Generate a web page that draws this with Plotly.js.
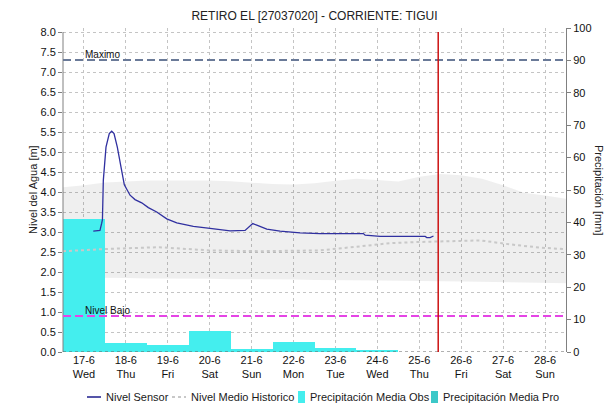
<!DOCTYPE html>
<html>
<head>
<meta charset="utf-8">
<script src="https://cdn.plot.ly/plotly-3.0.1.min.js"></script>
<style>html,body{margin:0;padding:0;background:#fff;}#chart{width:615px;height:404px;}</style>
</head>
<body>
<div id="chart"></div>
<script>
// ---- data ----
const chartTitle = 'RETIRO EL [27037020] - CORRIENTE: TIGUI';
const tickDates = ['2020-06-17 12:00','2020-06-18 12:00','2020-06-19 12:00','2020-06-20 12:00','2020-06-21 12:00','2020-06-22 12:00','2020-06-23 12:00','2020-06-24 12:00','2020-06-25 12:00','2020-06-26 12:00','2020-06-27 12:00','2020-06-28 12:00'];
const tickLabels = ['17-6<br>Wed','18-6<br>Thu','19-6<br>Fri','20-6<br>Sat','21-6<br>Sun','22-6<br>Mon','23-6<br>Tue','24-6<br>Wed','25-6<br>Thu','26-6<br>Fri','27-6<br>Sat','28-6<br>Sun'];

const sensorTimes = ['2020-06-17 17:20','2020-06-17 21:10','2020-06-17 22:10','2020-06-17 22:35','2020-06-17 23:05','2020-06-18 00:37','2020-06-18 02:30','2020-06-18 03:53','2020-06-18 05:13','2020-06-18 07:06','2020-06-18 09:13','2020-06-18 11:07','2020-06-18 14:23','2020-06-18 17:14','2020-06-18 21:04','2020-06-19 00:52','2020-06-19 05:40','2020-06-19 11:24','2020-06-19 17:08','2020-06-20 02:38','2020-06-20 12:12','2020-06-20 23:40','2020-06-21 08:15','2020-06-21 10:08','2020-06-21 12:39','2020-06-21 14:57','2020-06-21 20:41','2020-06-22 04:18','2020-06-22 15:45','2020-06-23 03:13','2020-06-24 04:00','2020-06-24 05:00','2020-06-24 13:35','2020-06-25 15:22','2020-06-25 16:19','2020-06-25 18:13','2020-06-25 20:07'];
const sensorLevel = [3.02,3.04,3.22,3.31,4.29,5.12,5.46,5.52,5.46,5.12,4.62,4.18,3.92,3.81,3.73,3.61,3.50,3.33,3.23,3.14,3.09,3.03,3.04,3.11,3.21,3.17,3.07,3.02,2.98,2.96,2.96,2.92,2.89,2.89,2.86,2.86,2.90];

const histTimes = ['2020-06-17 00:00','2020-06-18 03:00','2020-06-19 07:00','2020-06-20 12:00','2020-06-21 17:00','2020-06-23 03:00','2020-06-24 02:00','2020-06-24 19:00','2020-06-25 12:00','2020-06-26 00:00','2020-06-26 23:00','2020-06-27 16:00','2020-06-28 09:00','2020-06-29 00:00'];
const histMedian = [2.52,2.58,2.62,2.54,2.52,2.54,2.64,2.72,2.75,2.77,2.79,2.69,2.61,2.57];

const bandTimes = ['2020-06-17 00:00','2020-06-17 12:00','2020-06-18 00:00','2020-06-18 12:00','2020-06-19 00:00','2020-06-19 12:00','2020-06-20 00:00','2020-06-20 12:00','2020-06-21 00:00','2020-06-21 12:00','2020-06-22 00:00','2020-06-22 12:00','2020-06-23 00:00','2020-06-23 12:00','2020-06-24 00:00','2020-06-24 12:00','2020-06-25 00:00','2020-06-25 12:00','2020-06-26 00:00','2020-06-26 12:00','2020-06-27 00:00','2020-06-27 12:00','2020-06-28 00:00','2020-06-28 12:00','2020-06-29 00:00'];
const bandUpper = [4.12,4.17,4.24,4.27,4.29,4.29,4.29,4.29,4.27,4.23,4.20,4.19,4.22,4.28,4.33,4.30,4.26,4.38,4.45,4.42,4.33,4.17,3.98,3.91,3.83];
const bandLower = [1.86,1.86,1.85,1.85,1.84,1.84,1.83,1.83,1.82,1.82,1.81,1.81,1.80,1.80,1.79,1.79,1.78,1.78,1.77,1.76,1.75,1.75,1.74,1.73,1.72];

const precipDays = ['2020-06-17 12:00','2020-06-18 12:00','2020-06-19 12:00','2020-06-20 12:00','2020-06-21 12:00','2020-06-22 12:00','2020-06-23 12:00','2020-06-24 12:00','2020-06-25 12:00'];
const precipObs = [41, 2.8, 2.3, 6.4, 0.8, 3.1, 1.1, 0.7, 0];
const precipProDays = ['2020-06-26 12:00','2020-06-27 12:00','2020-06-28 12:00'];
const precipPro = [0, 0, 0];

const nivelMaximo = 7.3;
const nivelBajo = 0.9;
const nowTime = '2020-06-25 22:50';

// ---- layout helpers (pixel -> paper), plot area 63..566 x 28..352 ----
const PL = 63, PR = 566, PT = 28, PB = 352;
const px = v => (v - PL) / (PR - PL);
const py = v => (PB - v) / (PB - PT);
const FONT = 'Liberation Sans, Arial, sans-serif';
const DAY = 86400000;
const SENSOR_COLOR = '#3030a0';

const traces = [
  {x: bandTimes, y: bandLower, yaxis: 'y', type: 'scatter', mode: 'lines', line: {width: 0, color: 'rgba(0,0,0,0)'}, hoverinfo: 'skip', showlegend: false},
  {x: bandTimes, y: bandUpper, yaxis: 'y', type: 'scatter', mode: 'lines', fill: 'tonexty', fillcolor: 'rgba(0,0,0,0.062)', line: {width: 0, color: 'rgba(0,0,0,0)'}, name: 'Rango Historico', showlegend: false},
  {x: precipDays, y: precipObs, yaxis: 'y2', type: 'bar', width: DAY, marker: {color: '#44eeee', line: {width: 0}}, name: 'Precipitación Media Obs', showlegend: false},
  {x: precipProDays, y: precipPro, yaxis: 'y2', type: 'bar', width: DAY, marker: {color: '#3cc8c8', line: {width: 0}}, name: 'Precipitación Media Pro', showlegend: false},
  {x: histTimes, y: histMedian, yaxis: 'y3', type: 'scatter', mode: 'lines', line: {color: '#c8c8c8', width: 2, dash: 'dot'}, name: 'Nivel Medio Historico', showlegend: false},
  {x: sensorTimes, y: sensorLevel, yaxis: 'y3', type: 'scatter', mode: 'lines', line: {color: SENSOR_COLOR, width: 1.3}, name: 'Nivel Sensor', showlegend: false}
];

const shapes = [
  {type: 'line', xref: 'paper', yref: 'y', x0: 0, x1: 0, y0: 0, y1: 8, line: {color: '#808080', width: 1}, layer: 'above'},
  {type: 'line', xref: 'paper', yref: 'y', x0: 0, x1: 1, y0: 0, y1: 0, line: {color: '#606060', width: 1, dash: 'dot'}, layer: 'above'},
  {type: 'line', xref: 'paper', yref: 'y', x0: 0, x1: 1, y0: nivelMaximo, y1: nivelMaximo, line: {color: '#6a7a98', width: 2, dash: '8px,4px'}, layer: 'above'},
  {type: 'line', xref: 'paper', yref: 'y', x0: 0, x1: 1, y0: nivelBajo, y1: nivelBajo, line: {color: '#e545e5', width: 2, dash: '8px,4px'}, layer: 'above'},
  {type: 'line', xref: 'x', yref: 'y', x0: nowTime, x1: nowTime, y0: 0, y1: 8, line: {color: '#cc1111', width: 1.5}, layer: 'above'},
  {type: 'line', xref: 'paper', yref: 'paper', x0: px(87), x1: px(101), y0: py(397), y1: py(397), line: {color: '#1c1c8c', width: 1.5}},
  {type: 'line', xref: 'paper', yref: 'paper', x0: px(172), x1: px(186), y0: py(397), y1: py(397), line: {color: '#c8c8c8', width: 2, dash: 'dot'}},
  {type: 'rect', xref: 'paper', yref: 'paper', x0: px(298), x1: px(305), y0: py(391), y1: py(403), fillcolor: '#44eeee', line: {width: 0}},
  {type: 'rect', xref: 'paper', yref: 'paper', x0: px(431), x1: px(438), y0: py(391), y1: py(403), fillcolor: '#3cc8c8', line: {width: 0}}
];

const legText = (t, x) => ({text: t, xref: 'paper', yref: 'paper', x: px(x), y: py(397), xanchor: 'left', yanchor: 'middle', showarrow: false, font: {family: FONT, size: 11, color: '#1a1a1a'}});

const annotations = [
  {text: 'Maximo', xref: 'paper', yref: 'y', x: px(83), y: nivelMaximo, xanchor: 'left', yanchor: 'bottom', yshift: -2, showarrow: false, font: {family: FONT, size: 10, color: '#111'}},
  {text: 'Nivel Bajo', xref: 'paper', yref: 'y', x: px(83), y: nivelBajo, xanchor: 'left', yanchor: 'bottom', yshift: -2, showarrow: false, font: {family: FONT, size: 10, color: '#111'}},
  {text: 'Precipitación [mm]', xref: 'paper', yref: 'paper', x: px(599), y: py(190), textangle: 90, xanchor: 'center', yanchor: 'middle', showarrow: false, font: {family: FONT, size: 11, color: '#222'}},
  {text: 'Nivel del Agua [m]', xref: 'paper', yref: 'paper', x: px(33), y: py(190), textangle: -90, xanchor: 'center', yanchor: 'middle', showarrow: false, font: {family: FONT, size: 11, color: '#222'}},
  legText('Nivel Sensor', 104),
  legText('Nivel Medio Historico', 189),
  legText('Precipitación Media Obs', 308),
  legText('Precipitación Media Pro', 441)
];

const layout = {
  width: 615, height: 404,
  margin: {l: PL, r: 615 - PR, t: PT, b: 404 - PB, pad: 0},
  paper_bgcolor: '#ffffff', plot_bgcolor: '#ffffff',
  font: {family: FONT, size: 11, color: '#111'},
  showlegend: false,
  barmode: 'overlay', bargap: 0,
  title: {text: chartTitle, x: 0.5, xref: 'paper', xanchor: 'center', y: 1 - 16/404, yref: 'container', yanchor: 'middle', font: {family: FONT, size: 12, color: '#222'}},
  xaxis: {
    type: 'date', range: ['2020-06-17 00:00', '2020-06-29 00:00'],
    tickmode: 'array', tickvals: tickDates, ticktext: tickLabels,
    showgrid: true, gridcolor: '#c4c4c4', griddash: 'dot', gridwidth: 1,
    showline: false, zeroline: false, ticks: '', tickfont: {family: FONT, size: 11, color: '#111'}
  },
  yaxis: {
    range: [0, 8.1], tickmode: 'linear', tick0: 0, dtick: 0.5, tickformat: '.1f',
    showgrid: true, gridcolor: '#c4c4c4', griddash: 'dot', gridwidth: 1,
    showline: false, zeroline: false, ticks: 'outside', ticklen: 4, tickcolor: '#808080',
    tickfont: {family: FONT, size: 11, color: '#111'}
  },
  yaxis2: {
    overlaying: 'y', side: 'right', range: [0, 100], tickmode: 'linear', tick0: 0, dtick: 10,
    showgrid: false, zeroline: false, showline: true, linecolor: '#808080', linewidth: 1,
    ticks: 'outside', ticklen: 4, tickcolor: '#808080',
    tickfont: {family: FONT, size: 11, color: '#111'}
  },
  yaxis3: {overlaying: 'y', range: [0, 8.1], visible: false, showgrid: false, zeroline: false},
  shapes: shapes,
  annotations: annotations
};

Plotly.newPlot('chart', traces, layout, {displayModeBar: false, staticPlot: true});
</script>
</body>
</html>
